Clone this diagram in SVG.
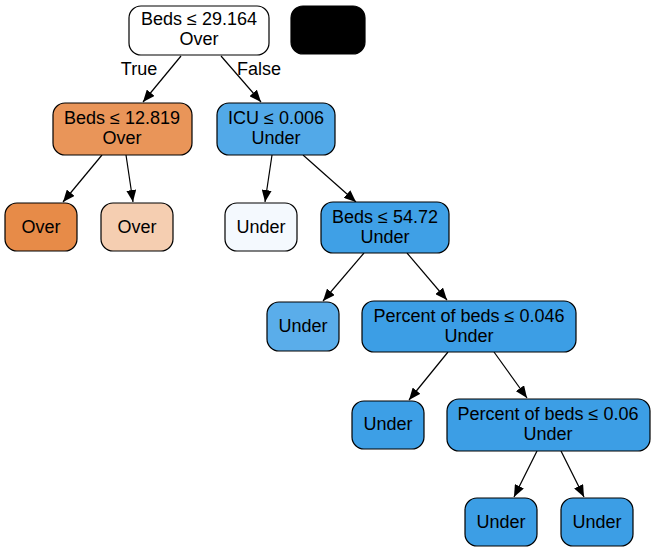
<svg xmlns="http://www.w3.org/2000/svg" width="656" height="552" viewBox="0 0 656 552">
  <style>
    .n rect { stroke: #000; stroke-width: 1.2; }
    text { font-family: "Liberation Sans", Arial, sans-serif; font-size: 18px; fill: #000; text-anchor: middle; }
    .e line { stroke: #000; stroke-width: 1.2; }
  </style>
  <defs>
    <marker id="ah" viewBox="0 0 12 10" refX="12" refY="5" markerWidth="12" markerHeight="10" markerUnits="userSpaceOnUse" orient="auto">
      <path d="M0,0 L12,5 L0,10 z" fill="#000"/>
    </marker>
  </defs>
  <rect width="656" height="552" fill="#fff"/>

  <g id="connectors" class="e">
    <line x1="181" y1="56" x2="143" y2="102" marker-end="url(#ah)"/>
    <line x1="221" y1="56" x2="261" y2="102" marker-end="url(#ah)"/>
    <line x1="102" y1="155" x2="63" y2="202" marker-end="url(#ah)"/>
    <line x1="126" y1="155" x2="133" y2="202" marker-end="url(#ah)"/>
    <line x1="272" y1="155" x2="265" y2="202" marker-end="url(#ah)"/>
    <line x1="303" y1="155" x2="356" y2="202" marker-end="url(#ah)"/>
    <line x1="364" y1="253" x2="323" y2="301" marker-end="url(#ah)"/>
    <line x1="407" y1="253" x2="447" y2="300" marker-end="url(#ah)"/>
    <line x1="448" y1="352" x2="409" y2="400" marker-end="url(#ah)"/>
    <line x1="494" y1="352" x2="527" y2="398" marker-end="url(#ah)"/>
    <line x1="537" y1="451" x2="514" y2="497" marker-end="url(#ah)"/>
    <line x1="561" y1="451" x2="584" y2="497" marker-end="url(#ah)"/>
    <text x="139" y="75">True</text>
    <text x="259" y="75">False</text>
  </g>

  <g id="n0" class="n">
    <rect x="129" y="6" width="140" height="49" rx="12" fill="#ffffff"/>
    <text x="199" y="25">Beds ≤ 29.164</text>
    <text x="199" y="45">Over</text>
  </g>
  <g id="legend" class="n">
    <rect x="291" y="6" width="74" height="48" rx="12" fill="#000000"/>
  </g>
  <g id="n1" class="n">
    <rect x="53" y="103" width="139" height="52" rx="12" fill="#e99559"/>
    <text x="122" y="124">Beds ≤ 12.819</text>
    <text x="122" y="144">Over</text>
  </g>
  <g id="n2" class="n">
    <rect x="5" y="203" width="72" height="48" rx="12" fill="#e78b48"/>
    <text x="41" y="233">Over</text>
  </g>
  <g id="n3" class="n">
    <rect x="101" y="203" width="72" height="48" rx="12" fill="#f5ceb1"/>
    <text x="137" y="233">Over</text>
  </g>
  <g id="n4" class="n">
    <rect x="217" y="103" width="118" height="52" rx="12" fill="#52a9e8"/>
    <text x="276" y="124">ICU ≤ 0.006</text>
    <text x="276" y="144">Under</text>
  </g>
  <g id="n5" class="n">
    <rect x="225" y="203" width="72" height="48" rx="12" fill="#f4f9fe"/>
    <text x="261" y="233">Under</text>
  </g>
  <g id="n6" class="n">
    <rect x="321" y="202" width="128" height="51" rx="12" fill="#3fa0e6"/>
    <text x="385" y="223">Beds ≤ 54.72</text>
    <text x="385" y="243">Under</text>
  </g>
  <g id="n7" class="n">
    <rect x="267" y="302" width="72" height="49" rx="12" fill="#5aadea"/>
    <text x="303" y="332">Under</text>
  </g>
  <g id="n8" class="n">
    <rect x="362" y="301" width="214" height="51" rx="12" fill="#3c9ee5"/>
    <text x="469" y="322">Percent of beds ≤ 0.046</text>
    <text x="469" y="342">Under</text>
  </g>
  <g id="n9" class="n">
    <rect x="352" y="401" width="72" height="48" rx="12" fill="#3d9fe6"/>
    <text x="388" y="430">Under</text>
  </g>
  <g id="n10" class="n">
    <rect x="447" y="399" width="203" height="52" rx="12" fill="#3c9ee5"/>
    <text x="548" y="420">Percent of beds ≤ 0.06</text>
    <text x="548" y="440">Under</text>
  </g>
  <g id="n11" class="n">
    <rect x="465" y="498" width="72" height="48" rx="12" fill="#3c9ee5"/>
    <text x="501" y="528">Under</text>
  </g>
  <g id="n12" class="n">
    <rect x="561" y="498" width="72" height="48" rx="12" fill="#3c9ee5"/>
    <text x="597" y="528">Under</text>
  </g>
</svg>
